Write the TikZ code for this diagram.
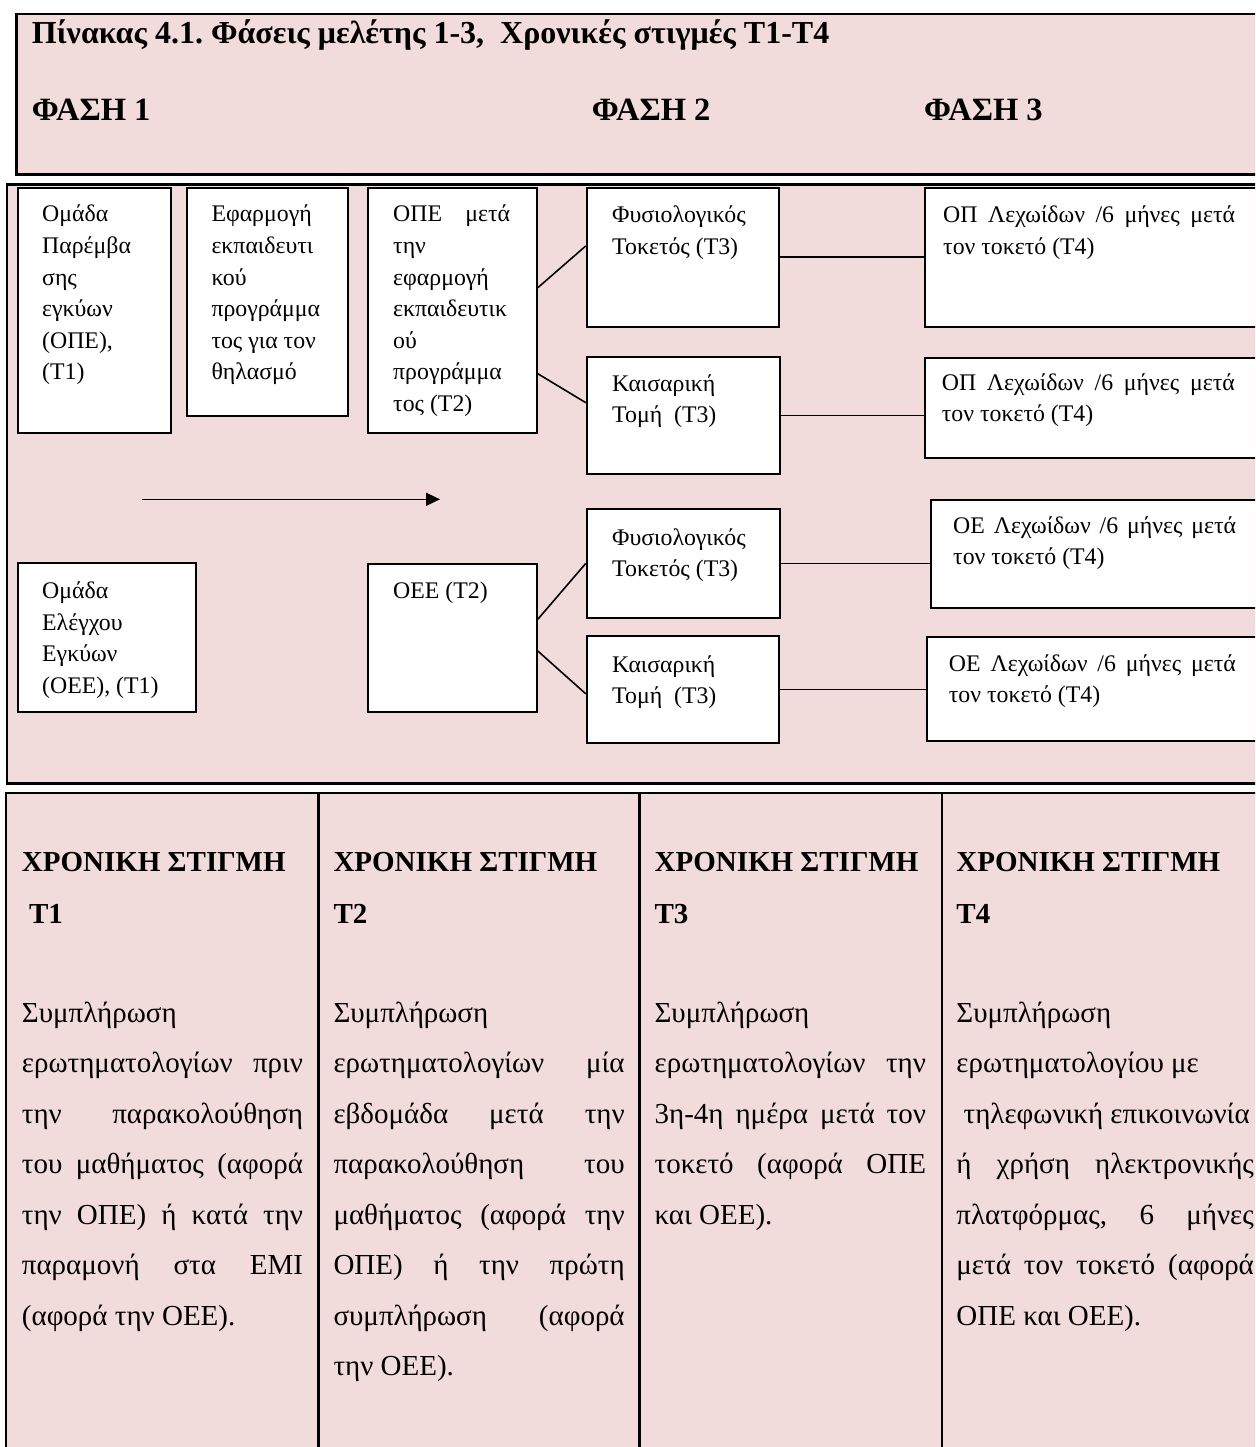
\documentclass[tikz,border=0pt]{standalone}
\usepackage{fontspec}
\setmainfont{Liberation Serif}
\usetikzlibrary{arrows.meta,calc}

\definecolor{phasepink}{HTML}{F2DCDB}

\newcommand{\stagefnt}{\fontsize{23.8}{31.6}\selectfont}
\newcommand{\cellfnt}{\fontsize{29}{50.5}\selectfont}
\newcommand{\headfnt}{\fontsize{29}{50.5}\selectfont\bfseries}
\newcommand{\phasefnt}{\fontsize{32.5}{40}\selectfont\bfseries}
\newcommand{\jl}[1]{\makebox[\linewidth][s]{#1}}

\tikzset{
  frame/.style={draw, line width=2.6pt, fill=phasepink},
  stagebox/.style={draw, line width=2pt, fill=white, inner sep=0pt, anchor=north west},
  boxtext/.style={inner sep=0pt, anchor=base west, font=\stagefnt},
  celltext/.style={inner sep=0pt, anchor=base west, font=\cellfnt},
  headtext/.style={inner sep=0pt, anchor=base west, font=\headfnt},
  phasetext/.style={inner sep=0pt, anchor=base west, font=\phasefnt},
  link/.style={line width=1.6pt},
}

\begin{document}
\frenchspacing
\begin{tikzpicture}[x=1pt,y=-1pt]

    \useasboundingbox (0,0) rectangle (1255,1447);
    \clip (0,0) rectangle (1255,1447);

    % Frames
    \draw[frame] (16.7,14) rectangle (1275,174.5);
    \draw[frame] (6.9,184.5) rectangle (1275,783.3);
    \draw[frame] (6,793) rectangle (1275,1460);
    \draw[line width=2.6pt] (318.3,793) -- (318.3,1460);
    \draw[line width=2.6pt] (639.4,793) -- (639.4,1460);
    \draw[line width=2.6pt] (942,793) -- (942,1460);

    % Header
    \node[phasetext, font=\fontsize{32}{40}\selectfont\bfseries] (title) at (31.7,44) {Πίνακας 4.1. Φάσεις μελέτης 1-3,\ \ Χρονικές στιγμές Τ1-Τ4};
    \node[phasetext] (phase1) at (31.7,121) {ΦΑΣΗ 1};
    \node[phasetext] (phase2) at (591.7,121) {ΦΑΣΗ 2};
    \node[phasetext] (phase3) at (924,121) {ΦΑΣΗ 3};

    % Intervention group
    \node[stagebox, minimum width=153.1pt, minimum height=245pt] (ope1) at (17.2,186.7) {};
    \node[stagebox, minimum width=161.1pt, minimum height=228.3pt] (edu) at (186,186.7) {};
    \node[stagebox, minimum width=168.4pt, minimum height=245pt] (ope2) at (367.4,186.7) {};
    \node[stagebox, minimum width=191.8pt, minimum height=139pt] (f1) at (585.7,186.7) {};
    \node[stagebox, minimum width=192.8pt, minimum height=117.3pt] (k1) at (585.7,356) {};
    \node[stagebox, minimum width=351.5pt, minimum height=139pt] (op1) at (923.5,186.7) {};
    \node[stagebox, minimum width=351.5pt, minimum height=100.3pt] (op2) at (923.5,356.7) {};

    % Control group
    \node[stagebox, minimum width=178pt, minimum height=149pt] (oee1) at (17.2,561.7) {};
    \node[stagebox, minimum width=168.4pt, minimum height=148pt] (oee2) at (367.4,562.7) {};
    \node[stagebox, minimum width=192.8pt, minimum height=108.4pt] (f2) at (585.7,508.3) {};
    \node[stagebox, minimum width=191.8pt, minimum height=106.7pt] (k2) at (585.7,635) {};
    \node[stagebox, minimum width=345pt, minimum height=107.4pt] (oe1) at (930,499.3) {};
    \node[stagebox, minimum width=349.3pt, minimum height=104.3pt] (oe2) at (925.7,635.7) {};

    % Connectors
    \draw[link] ($(ope2.east)+(0,-22.5)$) -- ($(f1.west)+(0,-11.2)$);
    \draw[link] ($(ope2.east)+(0,63.5)$) -- ($(k1.west)+(0,-13)$);
    \draw[link] (f1.east) -- (f1.east -| op1.west);
    \draw[link] (k1.east) -- (k1.east -| op2.west);
    \draw[link] ($(oee2.east)+(0,-18.4)$) -- (f2.west);
    \draw[link] ($(oee2.east)+(0,13.3)$) -- ($(k2.west)+(0,4.4)$);
    \draw[link] (f2.east) -- (f2.east -| oe1.west);
    \draw[link] (k2.east) -- (k2.east -| oe2.west);

    % Time arrow
    \coordinate (arrowstart) at (141.6,499.3);
    \coordinate (arrowend) at (440,499.3);
    \draw[link,-{Triangle[length=14pt,width=13pt]}] (arrowstart) -- (arrowend);

    % Box texts
    \node[boxtext] (ope1-t) at (42,222) {\parbox[t]{120pt}{Ομάδα\\Παρέμβα\\σης\\εγκύων\\(ΟΠΕ),\\(Τ1)}};
    \node[boxtext] (edu-t) at (211.3,222) {\parbox[t]{130pt}{Εφαρμογή\\εκπαιδευτι\\κού\\προγράμμα\\τος για τον\\θηλασμό}};
    \node[boxtext] (ope2-t) at (393,222) {\parbox[t]{117pt}{\jl{ΟΠΕ μετά}\\την\\εφαρμογή\\εκπαιδευτικ\\ού\\προγράμμα\\τος (Τ2)}};
    \node[boxtext] (f1-t) at (612,223) {\parbox[t]{160pt}{Φυσιολογικός\\Τοκετός (Τ3)}};
    \node[boxtext] (k1-t) at (612,391) {\parbox[t]{160pt}{Καισαρική\\Τομή\ \ (Τ3)}};
    \node[boxtext] (op1-t) at (943,223) {\parbox[t]{292pt}{\jl{ΟΠ Λεχωίδων /6 μήνες μετά}\\τον τοκετό (Τ4)}};
    \node[boxtext] (op2-t) at (941.7,390) {\parbox[t]{293pt}{\jl{ΟΠ Λεχωίδων /6 μήνες μετά}\\τον τοκετό (Τ4)}};
    \node[boxtext] (oee1-t) at (42,598.5) {\parbox[t]{140pt}{Ομάδα\\Ελέγχου\\Εγκύων\\(ΟΕΕ), (Τ1)}};
    \node[boxtext] (oee2-t) at (393,598.5) {ΟΕΕ (Τ2)};
    \node[boxtext] (f2-t) at (612,545) {\parbox[t]{160pt}{Φυσιολογικός\\Τοκετός (Τ3)}};
    \node[boxtext] (k2-t) at (612,672) {\parbox[t]{160pt}{Καισαρική\\Τομή\ \ (Τ3)}};
    \node[boxtext] (oe1-t) at (953,533) {\parbox[t]{283pt}{\jl{ΟΕ Λεχωίδων /6 μήνες μετά}\\τον τοκετό (Τ4)}};
    \node[boxtext] (oe2-t) at (948.7,671) {\parbox[t]{287pt}{\jl{ΟΕ Λεχωίδων /6 μήνες μετά}\\τον τοκετό (Τ4)}};

    % Time points
    \node[headtext] (h1) at (21.7,871) {ΧΡΟΝΙΚΗ ΣΤΙΓΜΗ};
    \node[headtext] (h2) at (333.3,871) {ΧΡΟΝΙΚΗ ΣΤΙΓΜΗ};
    \node[headtext] (h3) at (654.4,871) {ΧΡΟΝΙΚΗ ΣΤΙΓΜΗ};
    \node[headtext] (h4) at (956.2,871) {ΧΡΟΝΙΚΗ ΣΤΙΓΜΗ};
    \node[headtext] (t1) at (21.7,923) {\ Τ1};
    \node[headtext] (t2) at (333.3,923) {Τ2};
    \node[headtext] (t3) at (654.4,923) {Τ3};
    \node[headtext] (t4) at (956.2,923) {Τ4};

    \node[celltext] (c1) at (21.7,1022) {\parbox[t]{281.2pt}{Συμπλήρωση\\
      \jl{ερωτηματολογίων πριν}\\ \jl{την παρακολούθηση}\\ \jl{του μαθήματος (αφορά}\\
      \jl{την ΟΠΕ) ή κατά την}\\ \jl{παραμονή στα ΕΜΙ}\\ (αφορά την ΟΕΕ).}};
    \node[celltext] (c2) at (333.3,1022) {\parbox[t]{291.2pt}{Συμπλήρωση\\
      \jl{ερωτηματολογίων μία}\\ \jl{εβδομάδα μετά την}\\ \jl{παρακολούθηση του}\\
      \jl{μαθήματος (αφορά την}\\ \jl{ΟΠΕ) ή την πρώτη}\\ \jl{συμπλήρωση (αφορά}\\ την ΟΕΕ).}};
    \node[celltext] (c3) at (654.4,1022) {\parbox[t]{271.4pt}{Συμπλήρωση\\
      \jl{ερωτηματολογίων την}\\ \jl{3η-4η ημέρα μετά τον}\\ \jl{τοκετό (αφορά ΟΠΕ}\\ και ΟΕΕ).}};
    \node[celltext] (c4) at (956.2,1022) {\parbox[t]{297.5pt}{Συμπλήρωση\\
      ερωτηματολογίου με\\ \hbox{}\ τηλεφωνική επικοινωνία\\ \jl{ή χρήση ηλεκτρονικής}\\
      \jl{πλατφόρμας, 6 μήνες}\\ \jl{μετά τον τοκετό (αφορά}\\ ΟΠΕ και ΟΕΕ).}};

\end{tikzpicture}
\end{document}
